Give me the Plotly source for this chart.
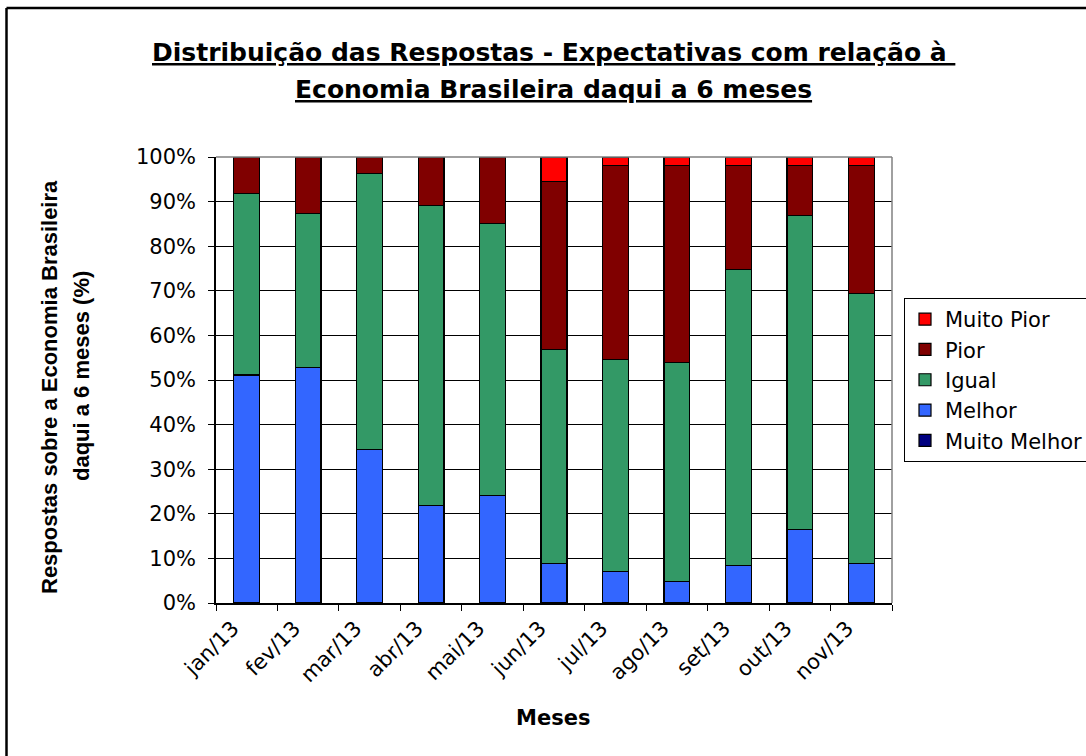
import plotly.graph_objects as go

months = ["jan/13", "fev/13", "mar/13", "abr/13", "mai/13", "jun/13",
          "jul/13", "ago/13", "set/13", "out/13", "nov/13"]
muito_melhor = [0, 0, 0, 0, 0, 0, 0, 0, 0, 0, 0]
melhor = [51.1, 52.8, 34.5, 21.9, 24.1, 8.8, 7.0, 4.8, 8.4, 16.5, 8.8]
igual = [40.7, 34.6, 61.8, 67.2, 61.0, 48.0, 47.6, 49.2, 66.4, 70.4, 60.6]
pior = [8.2, 12.6, 3.7, 10.9, 14.9, 37.7, 43.5, 44.1, 23.3, 11.2, 28.7]
muito_pior = [0, 0, 0, 0, 0, 5.5, 1.9, 1.9, 1.9, 1.9, 1.9]

series = [
    ("Muito Melhor", muito_melhor, "#000080"),
    ("Melhor", melhor, "#3366FF"),
    ("Igual", igual, "#339966"),
    ("Pior", pior, "#800000"),
    ("Muito Pior", muito_pior, "#FF0000"),
]

W, H = 1086, 756
L, R, T, B = 216, 194, 157, 153
pw, ph = W - L - R, H - T - B

def px_x(p):
    return (p - L) / pw

def px_y(p):
    return (H - B - p) / ph

fig = go.Figure()
for i, (name, vals, col) in enumerate(series):
    fig.add_trace(go.Bar(
        x=months, y=[v / 100 for v in vals], name=name,
        marker=dict(color=col, line=dict(color="black", width=1.2)),
        legendgroup=name, legendrank=100 - i,
    ))

fig.update_layout(
    width=W, height=H,
    barmode="stack", bargap=0.58,
    plot_bgcolor="white", paper_bgcolor="white",
    margin=dict(l=L, r=R, t=T, b=B, autoexpand=False),
    showlegend=True,
    legend=dict(
        x=px_x(904), y=px_y(298), xanchor="left", yanchor="top",
        traceorder="grouped", tracegroupgap=0,
        bordercolor="black", borderwidth=1,
        font=dict(family="DejaVu Sans", size=21, color="black"),
    ),
    font=dict(family="DejaVu Sans", color="black"),
)

fig.update_xaxes(
    type="category", tickson="boundaries", ticks="outside", ticklen=6,
    tickcolor="black", tickwidth=1.2,
    showline=True, linecolor="black", linewidth=1.5,
    showgrid=False, tickangle=-45, ticklabelshift=-14, ticklabelstandoff=3,
    tickfont=dict(family="DejaVu Sans", size=21, color="black"),
)
fig.update_yaxes(
    range=[0, 1], dtick=0.1, tickformat=".0%",
    ticks="outside", ticklen=6, tickcolor="black", tickwidth=1.2,
    showline=True, linecolor="black", linewidth=1.5,
    showgrid=True, gridcolor="black", gridwidth=1.2,
    zeroline=False, ticklabelstandoff=8,
    tickfont=dict(family="DejaVu Sans", size=21, color="black"),
)

# plot area border (gray, top and right)
fig.add_shape(type="line", xref="paper", yref="paper", x0=0, x1=1, y0=1, y1=1,
              line=dict(color="#808080", width=1.5), layer="above")
fig.add_shape(type="line", xref="paper", yref="paper", x0=1, x1=1, y0=0, y1=1,
              line=dict(color="#808080", width=1.5), layer="above")

# outer chart frame (left and top visible)
fig.add_shape(type="line", xref="paper", yref="paper",
              x0=px_x(6.5), x1=px_x(1100), y0=px_y(8), y1=px_y(8),
              line=dict(color="black", width=2.5))
fig.add_shape(type="line", xref="paper", yref="paper",
              x0=px_x(6.5), x1=px_x(6.5), y0=px_y(8), y1=px_y(770),
              line=dict(color="black", width=2.5))

# title (two centred lines)
fig.add_annotation(text="<b><u>Distribuição das Respostas - Expectativas com relação à </u></b>",
                   xref="paper", yref="paper", x=px_x(553), y=px_y(52),
                   xanchor="center", yanchor="middle", showarrow=False,
                   font=dict(family="DejaVu Sans", size=25, color="black"))
fig.add_annotation(text="<b><u>Economia Brasileira daqui a 6 meses</u></b>",
                   xref="paper", yref="paper", x=px_x(553), y=px_y(90),
                   xanchor="center", yanchor="middle", showarrow=False,
                   font=dict(family="DejaVu Sans", size=25, color="black"))

# y-axis title (two lines)
fig.add_annotation(text="<b>Respostas sobre a Economia Brasileira</b>",
                   xref="paper", yref="paper", x=px_x(49), y=px_y(387),
                   xanchor="center", yanchor="middle", showarrow=False, textangle=-90,
                   font=dict(family="Liberation Sans", size=22, color="black"))
fig.add_annotation(text="<b>daqui a 6 meses (%)</b>",
                   xref="paper", yref="paper", x=px_x(81), y=px_y(376),
                   xanchor="center", yanchor="middle", showarrow=False, textangle=-90,
                   font=dict(family="Liberation Sans", size=22, color="black"))

# x-axis title
fig.add_annotation(text="<b>Meses</b>",
                   xref="paper", yref="paper", x=px_x(553), y=px_y(718),
                   xanchor="center", yanchor="middle", showarrow=False,
                   font=dict(family="DejaVu Sans", size=21, color="black"))

fig.write_html("out.html", config={"displayModeBar": False},
               post_script="document.body.style.margin='0';document.body.style.overflow='hidden';")
